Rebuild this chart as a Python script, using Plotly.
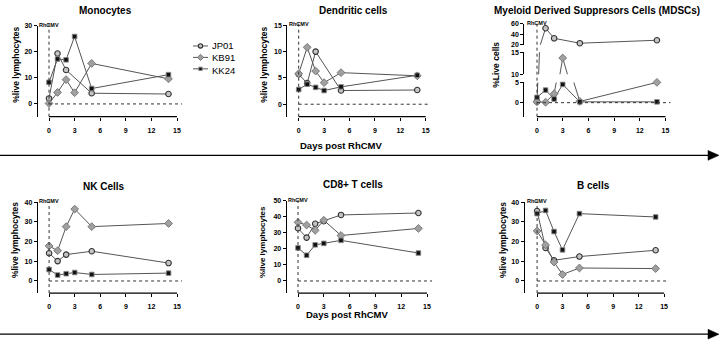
import plotly.graph_objects as go

W, H = 720, 346
FONT = "Liberation Sans, Arial, sans-serif"

# ---------------- data ----------------
DAYS = [0, 1, 2, 3, 5, 14]
SERIES = ["JP01", "KB91", "KK24"]
X_TICKS = [0, 3, 6, 9, 12, 15]

MONO_JP01 = [2.1, 19.3, 13.0, None, 4.1, 3.8]
MONO_KB91 = [0.2, 4.4, 9.3, 4.3, 15.5, 9.6]
MONO_KK24 = [8.3, 17.2, 16.9, 25.8, 5.9, 11.2]

DC_JP01 = [5.7, 4.0, 10.0, None, 2.6, 2.7]
DC_KB91 = [5.8, 10.8, 6.3, 4.1, 6.0, 5.4]
DC_KK24 = [2.8, 3.8, 3.2, 2.6, 3.3, 5.5]

MDSC_JP01 = [0.3, 51.3, 32.3, None, 23.1, 28.7]
MDSC_KB91 = [0.2, 0.1, 2.2, 13.7, 0.3, 5.0]
MDSC_KK24 = [1.3, 3.1, 0.9, 4.5, 0.2, 0.2]

NK_JP01 = [14.1, 10.1, 13.4, None, 15.1, 9.1]
NK_KB91 = [17.8, 15.4, 27.6, 36.5, 27.6, 29.2]
NK_KK24 = [5.8, 3.0, 3.7, 4.3, 3.3, 4.0]

CD8_JP01 = [32.8, 27.0, 35.6, 37.3, 41.1, 42.3]
CD8_KB91 = [36.5, 34.8, 31.5, 37.8, 28.3, 32.7]
CD8_KK24 = [20.6, 16.0, 22.5, 23.4, 25.3, 17.4]

B_JP01 = [35.5, 16.8, 10.5, None, 12.4, 15.6]
B_KB91 = [25.4, 18.3, 9.6, 3.3, 6.6, 6.3]
B_KK24 = [34.2, 35.8, 25.1, 15.8, 34.2, 32.5]

MDSC_SEGMENTS = [(0, 5), (10, 15), (20, 60)]
MDSC_SEG_TICKS = [[0, 5], [10, 15], [20, 40, 60]]

# ---------------- styles ----------------
STYLE = {
    "JP01": dict(symbol="circle", size=5.5, color="#c4c4c4", line=dict(color="#333333", width=1.1)),
    "KB91": dict(symbol="diamond", size=6, color="#a0a0a0", line=dict(color="#707070", width=0.9)),
    "KK24": dict(symbol="square", size=4.6, color="#111111", line=dict(color="#8a8a8a", width=0.9)),
}
LINE = dict(color="#555555", width=1)


def px_x(p):
    return p / W


def px_y(p):
    return 1 - p / H


fig = go.Figure()
layout = {}
shapes = []
annotations = []

TICKFONT = dict(family=FONT, size=7, color="black", weight="bold")


def xname_of(idx):
    return "xaxis" if idx == 1 else f"xaxis{idx}"


def add_common(idx, ax_px, x0_px, x15_px, bottom_px, top_px, title, title_xy, ytitle, ytitle_xy, ytitle_size=8.5):
    xs = (x15_px - x0_px) / 15.0
    xmin = (ax_px - x0_px) / xs
    xmax = 15.6
    layout[xname_of(idx)] = dict(
        domain=[px_x(ax_px), px_x(x0_px + xmax * xs)], range=[xmin, xmax],
        tickvals=X_TICKS, ticks="outside", ticklen=3, tickwidth=1, tickcolor="black",
        showticklabels=True, ticklabelstandoff=4,
        showline=False, showgrid=False, zeroline=False, tickfont=TICKFONT,
    )
    xref = "x" if idx == 1 else f"x{idx}"
    # x axis line from 0 to 15 (Prism offset style)
    shapes.append(dict(type="line", xref=xref, yref="paper", x0=0, x1=15,
                       y0=px_y(bottom_px), y1=px_y(bottom_px), line=dict(color="black", width=1.2)))
    # vertical dotted line at day 0
    shapes.append(dict(type="line", xref=xref, yref="paper", x0=0, x1=0,
                       y0=px_y(bottom_px), y1=px_y(top_px - 2), line=dict(color="#333", width=1, dash="dot")))
    annotations.append(dict(x=0, y=px_y(top_px - 1), xref=xref, yref="paper", text="RhCMV",
                            showarrow=False, font=dict(family=FONT, size=5.5, color="black", weight="bold"),
                            xanchor="center", yanchor="middle"))
    annotations.append(dict(x=px_x(title_xy[0]), y=px_y(title_xy[1]), xref="paper", yref="paper", text=title,
                            showarrow=False, font=dict(family=FONT, size=10, color="black", weight="bold"),
                            xanchor="center", yanchor="middle"))
    annotations.append(dict(x=px_x(ytitle_xy[0]), y=px_y(ytitle_xy[1]), xref="paper", yref="paper", text=ytitle,
                            showarrow=False, textangle=-90,
                            font=dict(family=FONT, size=ytitle_size, color="black", weight="bold"),
                            xanchor="center", yanchor="middle"))
    return xref


def add_panel(idx, series, yticks, ax_px, x0_px, x15_px, bottom_px, y0_px, top_px, ytop,
              title, title_xy, ytitle, ytitle_xy, ytitle_size=8.5):
    xref = add_common(idx, ax_px, x0_px, x15_px, bottom_px, top_px, title, title_xy, ytitle, ytitle_xy, ytitle_size)
    ys = (y0_px - top_px) / ytop
    ymin = -(bottom_px - y0_px) / ys
    yname = "yaxis" if idx == 1 else f"yaxis{idx}"
    yref = "y" if idx == 1 else f"y{idx}"
    layout[yname] = dict(
        domain=[px_y(bottom_px), px_y(top_px)], range=[ymin, ytop], anchor=xref,
        tickvals=yticks, ticks="outside", ticklen=3, tickwidth=1, tickcolor="black",
        showline=True, linecolor="black", linewidth=1.2, showgrid=False, zeroline=False, tickfont=TICKFONT,
    )
    layout[xname_of(idx)]["anchor"] = yref
    shapes.append(dict(type="line", xref=xref, yref=yref, x0=0, x1=15.6, y0=0, y1=0,
                       line=dict(color="#333", width=1, dash="dot")))
    for name, vals in zip(SERIES, series):
        fig.add_trace(go.Scatter(x=DAYS, y=vals, mode="lines+markers", xaxis=xref, yaxis=yref,
                                 line=LINE, marker=STYLE[name], connectgaps=True, cliponaxis=False,
                                 showlegend=False, name=name))


# top row
add_panel(1, [MONO_JP01, MONO_KB91, MONO_KK24], [0, 10, 20, 30], 37.7, 49, 177, 115, 102, 22, 30,
          "Monocytes", (105, 7), "%live lymphocytes", (16, 62))
add_panel(2, [DC_JP01, DC_KB91, DC_KK24], [0, 5, 10, 15], 287.3, 298.7, 425.7, 115, 102.3, 21.7, 15,
          "Dendritic cells", (353, 7), "%live lymphocytes", (264, 62))

# MDSC panel with a broken (three-segment) y axis
idx = 3
xref = add_common(idx, 524.3, 537, 665.5, 115, 20, "Myeloid Derived Suppresors Cells (MDSCs)", (597, 7),
                  "%Live cells", (496, 62))
seg_px = [(115, 80, 100.7), (71.7, 49.3, None), (41.7, 20, None)]  # bottom_px, top_px, zero_px
seg_axes = [3, 7, 8]
for (lo, hi), (bpx, tpx, zpx), ticks, ai in zip(MDSC_SEGMENTS, seg_px, MDSC_SEG_TICKS, seg_axes):
    if zpx is not None:
        ys = (zpx - tpx) / (hi - lo)
        rmin = lo - (bpx - zpx) / ys
    else:
        rmin = lo
    layout[f"yaxis{ai}"] = dict(
        domain=[px_y(bpx), px_y(tpx)], range=[rmin, hi], anchor=xref,
        tickvals=ticks, ticks="outside", ticklen=3, tickwidth=1, tickcolor="black",
        showline=True, linecolor="black", linewidth=1.2, showgrid=False, zeroline=False, tickfont=TICKFONT,
    )
layout["xaxis3"]["anchor"] = "y3"
shapes.append(dict(type="line", xref="x3", yref="y3", x0=0, x1=15.6, y0=0, y1=0,
                   line=dict(color="#333", width=1, dash="dot")))
bounds = [(-1e9, 7.5), (7.5, 17.5), (17.5, 1e9)]
for name, vals in zip(SERIES, [MDSC_JP01, MDSC_KB91, MDSC_KK24]):
    for ai in seg_axes:
        fig.add_trace(go.Scatter(x=DAYS, y=vals, mode="lines", xaxis="x3", yaxis=f"y{ai}",
                                 line=LINE, connectgaps=True, showlegend=False, name=name))
for name, vals in zip(SERIES, [MDSC_JP01, MDSC_KB91, MDSC_KK24]):
    for ai, (blo, bhi) in zip(seg_axes, bounds):
        yy = [v if (v is not None and blo <= v < bhi) else None for v in vals]
        fig.add_trace(go.Scatter(x=DAYS, y=yy, mode="markers", xaxis="x3", yaxis=f"y{ai}",
                                 marker=STYLE[name], cliponaxis=False, showlegend=False, name=name))

# bottom row
add_panel(4, [NK_JP01, NK_KB91, NK_KK24], [0, 10, 20, 30, 40], 37.9, 49.1, 177.1, 295, 282.7, 202.3, 40,
          "NK Cells", (104, 186), "%live lymphocytes", (15, 241))
add_panel(5, [CD8_JP01, CD8_KB91, CD8_KK24], [0, 10, 20, 30, 40, 50], 286.7, 298, 427, 295, 282.7, 200.7, 50,
          "CD8+ T cells", (353, 184), "%live lymphocytes", (262, 243), 8)
add_panel(6, [B_JP01, B_KB91, B_KK24], [0, 10, 20, 30, 40], 524.6, 537.1, 664.1, 295, 282.7, 202.3, 40,
          "B cells", (593, 185), "%live lymphocytes", (503, 241))

# legend (glyphs on a hidden helper axis)
LEG_IDX = [0, 1, 2]
layout["xaxis9"] = dict(domain=[px_x(193), px_x(208)], range=[0, 1], visible=False, anchor="y9")
layout["yaxis9"] = dict(domain=[px_y(72), px_y(37)], range=[2.5, -0.5], visible=False, anchor="x9")
for name, k in zip(SERIES, LEG_IDX):
    st = dict(STYLE[name])
    st["size"] = st["size"] - 1.2
    fig.add_trace(go.Scatter(x=[0, 0.5, 1], y=[k, k, k], mode="lines", xaxis="x9", yaxis="y9",
                             line=LINE, showlegend=False, hoverinfo="skip"))
    fig.add_trace(go.Scatter(x=[0.5], y=[k], mode="markers", xaxis="x9", yaxis="y9",
                             marker=st, showlegend=False, hoverinfo="skip", cliponaxis=False))
    annotations.append(dict(x=px_x(210), y=px_y(42.3 + k * 12.7), xref="paper", yref="paper", text=name,
                            showarrow=False, font=dict(family=FONT, size=9.5, color="black"),
                            xanchor="left", yanchor="middle"))

# arrows + "Days post RhCMV"
for ay in [154.5, 337]:
    shapes.append(dict(type="line", xref="paper", yref="paper", x0=0, x1=px_x(710),
                       y0=px_y(ay), y1=px_y(ay), line=dict(color="black", width=1.3)))
    shapes.append(dict(type="path", xref="paper", yref="paper",
                       path=f"M{px_x(708)},{px_y(ay - 5)} L{px_x(719)},{px_y(ay)} L{px_x(708)},{px_y(ay + 5)} Z",
                       fillcolor="black", line=dict(color="black", width=0.5)))
annotations.append(dict(x=px_x(341), y=px_y(144), xref="paper", yref="paper", text="Days post RhCMV",
                        showarrow=False, font=dict(family=FONT, size=9.5, color="black", weight="bold")))
annotations.append(dict(x=px_x(347), y=px_y(325), xref="paper", yref="paper", text="Days post RhCMV",
                        showarrow=False, font=dict(family=FONT, size=9.5, color="black", weight="bold")))

fig.update_layout(**layout)
fig.update_layout(
    width=W, height=H, margin=dict(l=0, r=0, t=0, b=0),
    paper_bgcolor="white", plot_bgcolor="rgba(0,0,0,0)",
    shapes=shapes, annotations=annotations, showlegend=False,
    font=dict(family=FONT, color="black"),
)
fig.write_html(
    "out.html",
    config={"displayModeBar": False},
    post_script="document.body.style.margin='0';document.body.style.padding='0';"
                "document.documentElement.style.overflow='hidden';",
)
